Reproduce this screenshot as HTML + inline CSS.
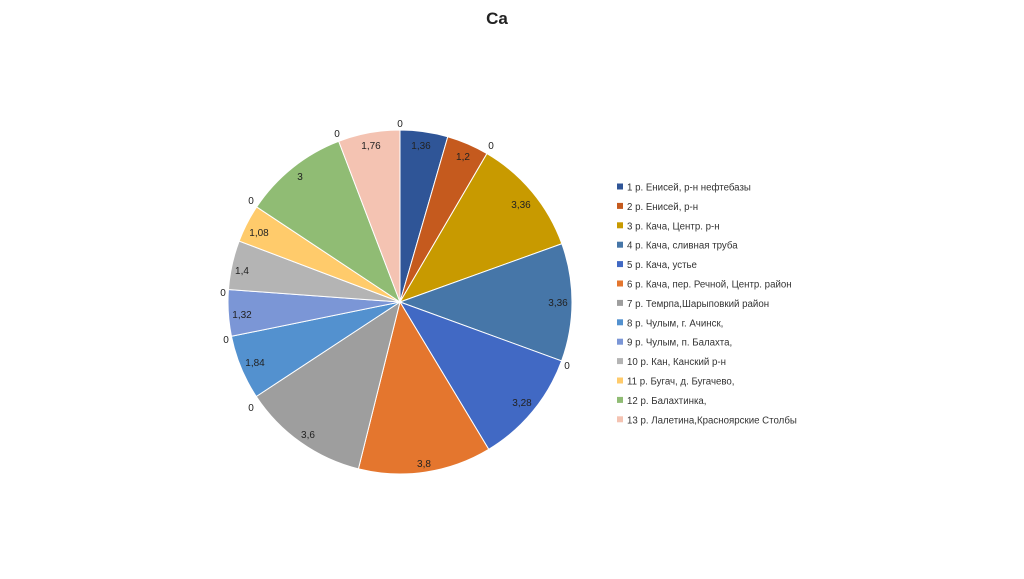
<!DOCTYPE html>
<html><head><meta charset="utf-8"><style>
body{margin:0;background:#fff;}
svg text{font-family:"Liberation Sans",sans-serif;}
</style></head><body>
<svg id="s" width="1024" height="574" xmlns="http://www.w3.org/2000/svg">
<text x="497" y="24" font-size="17" font-weight="bold" text-anchor="middle" fill="#222">Ca</text>
<g id="pie" stroke="#fff" stroke-width="1"></g>
<g font-size="10" fill="#222" text-anchor="middle">
<text x="421" y="149">1,36</text>
<text x="463" y="160">1,2</text>
<text x="521" y="208">3,36</text>
<text x="558" y="306">3,36</text>
<text x="522" y="406">3,28</text>
<text x="424" y="467">3,8</text>
<text x="308" y="438">3,6</text>
<text x="255" y="366">1,84</text>
<text x="242" y="318">1,32</text>
<text x="242" y="274">1,4</text>
<text x="259" y="236">1,08</text>
<text x="300" y="180">3</text>
<text x="371" y="149">1,76</text>
<text x="400" y="127">0</text>
<text x="491" y="149">0</text>
<text x="567" y="369">0</text>
<text x="251" y="411">0</text>
<text x="226" y="343">0</text>
<text x="223" y="296">0</text>
<text x="251" y="204">0</text>
<text x="337" y="137">0</text>
</g>
<g id="leg" font-size="9.7" fill="#333"></g>
</svg>
<script>
var v=[1.36,1.2,3.36,3.36,3.28,3.8,3.6,1.84,1.32,1.4,1.08,3,1.76];
var c=["#2F5597","#C55A1E","#C89A00","#4676A8","#4169C4","#E4762E","#9E9E9E","#5391CF","#7B96D6","#B4B4B4","#FFCB6B","#90BC74","#F4C3B2"];
var names=["1 р. Енисей, р-н нефтебазы","2 р. Енисей, р-н","3 р. Кача, Центр. р-н","4 р. Кача, сливная труба","5 р. Кача, устье","6 р. Кача, пер. Речной, Центр. район","7 р. Темрпа,Шарыповкий район","8 р. Чулым, г. Ачинск,","9 р. Чулым, п. Балахта,","10 р. Кан, Канский р-н","11 р. Бугач, д. Бугачево,","12 р. Балахтинка,","13 р. Лалетина,Красноярские Столбы"];
var sum=v.reduce((a,b)=>a+b,0),cx=400,cy=302,r=172,a=0,h="";
for(var i=0;i<v.length;i++){var b=a+v[i]/sum*2*Math.PI;
var x1=cx+r*Math.sin(a),y1=cy-r*Math.cos(a),x2=cx+r*Math.sin(b),y2=cy-r*Math.cos(b);
h+='<path d="M'+cx+','+cy+'L'+x1+','+y1+'A'+r+','+r+' 0 '+((b-a)>Math.PI?1:0)+' 1 '+x2+','+y2+'Z" fill="'+c[i]+'"/>';a=b;}
document.getElementById("pie").innerHTML=h;
var l="";for(var i=0;i<13;i++){var y=187.5+i*19.4;
l+='<rect x="617" y="'+(y-4)+'" width="6" height="6" fill="'+c[i]+'"/><text x="627" y="'+(y+3)+'">'+names[i]+'</text>';}
document.getElementById("leg").innerHTML=l;
</script>
</body></html>
